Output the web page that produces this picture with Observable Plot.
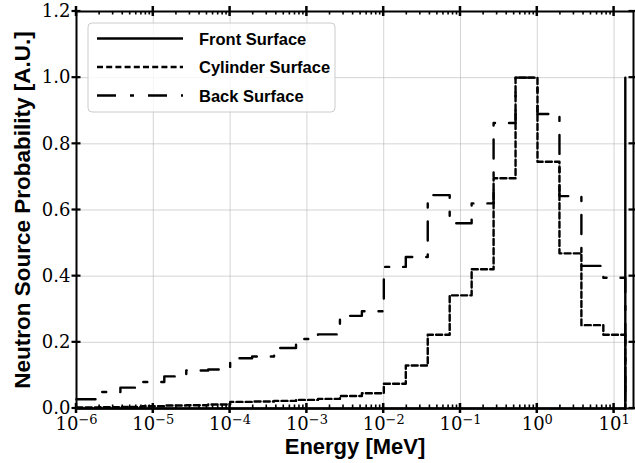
<!DOCTYPE html>
<html>
<head>
<meta charset="utf-8">
<script src="https://cdn.jsdelivr.net/npm/d3@7"></script>
<script src="https://cdn.jsdelivr.net/npm/@observablehq/plot@0.6"></script>
<style>
  html, body { margin: 0; padding: 0; background: white; }
  svg { display: block; }
</style>
</head>
<body>
<div id="chart"></div>
<script>
// Bin edges [MeV] (25 log-spaced bins, 1e-6 .. 14 MeV)
const edges = [1.000e-6, 1.931e-6, 3.730e-6, 7.203e-6, 1.391e-5, 2.687e-5, 5.189e-5,
  1.002e-4, 1.935e-4, 3.738e-4, 7.219e-4, 1.394e-3, 2.693e-3, 5.200e-3,
  1.004e-2, 1.940e-2, 3.746e-2, 7.234e-2, 0.1397, 0.2698, 0.5211,
  1.006, 1.944, 3.753, 7.249, 14.0];

// Step values (value at each edge, "post" steps)
const front = [0, 0, 0, 0, 0, 0, 0, 0, 0, 0, 0, 0, 0, 0, 0, 0, 0, 0, 0, 0, 0, 0, 0, 0, 0, 1.0];
const cylinder = [0.003, 0.004, 0.005, 0.007, 0.009, 0.010, 0.012, 0.020, 0.021, 0.023, 0.026, 0.029, 0.038, 0.046,
  0.075, 0.130, 0.223, 0.342, 0.421, 0.696, 1.000, 0.746, 0.469, 0.252, 0.223, 0];
const back = [0.028, 0.050, 0.063, 0.080, 0.097, 0.115, 0.118, 0.152, 0.157, 0.183, 0.210, 0.224, 0.280, 0.294,
  0.428, 0.458, 0.645, 0.560, 0.620, 0.863, 1.000, 0.890, 0.642, 0.431, 0.395, 0];

const seriesNames = ["Front Surface", "Cylinder Surface", "Back Surface"];
const seriesDash = [null, "6,3.2", "19,14,4,14"];

const xTicks = [1e-6, 1e-5, 1e-4, 1e-3, 1e-2, 1e-1, 1, 10];
const xTickExp = ["\u22126", "\u22125", "\u22124", "\u22123", "\u22122", "\u22121", "0", "1"];
const yTicks = [0, 0.2, 0.4, 0.6, 0.8, 1.0, 1.2];
const xDomain = [1e-6, 17.9];
const yDomain = [0, 1.2];
const xLabel = "Energy [MeV]";
const yLabel = "Neutron Source Probability [A.U.]";

const toRows = vals => edges.map((e, i) => ({e, v: vals[i]}));
const allSeries = [front, cylinder, back];

const sansBold = "'Liberation Sans', Arial, sans-serif";
const serif = "'DejaVu Serif', serif";
const gridStyle = {stroke: "#b0b0b0", strokeOpacity: 0.55, strokeWidth: 1};

const plot = Plot.plot({
  width: 635,
  height: 463,
  marginLeft: 76,
  marginRight: 2,
  marginTop: 11,
  marginBottom: 55,
  style: {fontFamily: serif, fontSize: "18px", color: "black", background: "white"},
  x: {type: "log", domain: xDomain},
  y: {domain: yDomain},
  marks: [
    Plot.gridX({ticks: xTicks, ...gridStyle}),
    Plot.gridY({ticks: yTicks, ...gridStyle}),
    ...allSeries.map((s, k) => Plot.line(toRows(s), {
      x: "e", y: "v", curve: "step-after",
      stroke: "black", strokeWidth: 2.4,
      strokeDasharray: seriesDash[k] ?? undefined
    })),
    Plot.frame({stroke: "black", strokeWidth: 2}),
    Plot.axisX({ticks: xTicks, tickSize: 0, tickPadding: 9, label: null,
      tickFormat: d => xTickExp[xTicks.indexOf(d)],
      fontFamily: serif, fontSize: 18}),
    Plot.axisY({ticks: yTicks, tickSize: 0, tickPadding: 6, label: null,
      tickFormat: d3.format(".1f"), fontFamily: serif, fontSize: 18}),
    Plot.text([xLabel], {text: d => d, frameAnchor: "bottom", dy: 38.5,
      textAnchor: "middle", lineAnchor: "middle",
      fontFamily: sansBold, fontWeight: "bold", fontSize: 22, fill: "black"}),
    Plot.text([yLabel], {text: d => d, frameAnchor: "left", rotate: -90, dx: -54,
      textAnchor: "middle", lineAnchor: "middle",
      fontFamily: sansBold, fontWeight: "bold", fontSize: 22.5, fill: "black"})
  ]
});

document.getElementById("chart").appendChild(plot);

const svg = d3.select(plot);

// superscript exponents on x tick labels
svg.selectAll('g[aria-label="x-axis tick label"] text').each(function () {
  const t = d3.select(this);
  const exp = t.text();
  t.text(null);
  t.append("tspan").text("10");
  t.append("tspan").attr("dy", "-0.48em").attr("font-size", "0.72em").text(exp);
});

// ticks (inout majors, inward minors) from the plot's own scales
const xs = plot.scale("x"), ys = plot.scale("y");
const [xL, xR] = xs.range;
const yB = ys.range[0], yT = ys.range[1];
const tg = svg.append("g").attr("stroke", "black");
for (const t of xTicks) {
  const px = xs.apply(t);
  tg.append("line").attr("x1", px).attr("x2", px).attr("y1", yB - 5).attr("y2", yB + 5).attr("stroke-width", 2.5);
  tg.append("line").attr("x1", px).attr("x2", px).attr("y1", yT - 5).attr("y2", yT + 5).attr("stroke-width", 2.5);
}
const minor = [];
for (const d of xTicks) for (const m of [2, 3, 4, 5, 6, 7, 8, 9]) {
  const v = d * m;
  if (v < xDomain[1]) minor.push(v);
}
for (const t of minor) {
  const px = xs.apply(t);
  tg.append("line").attr("x1", px).attr("x2", px).attr("y1", yB).attr("y2", yB - 3.5).attr("stroke-width", 1.6);
  tg.append("line").attr("x1", px).attr("x2", px).attr("y1", yT).attr("y2", yT + 3.5).attr("stroke-width", 1.6);
}
for (const t of yTicks) {
  const py = ys.apply(t);
  tg.append("line").attr("x1", xL - 4.5).attr("x2", xL + 4.5).attr("y1", py).attr("y2", py).attr("stroke-width", 2.2);
  tg.append("line").attr("x1", xR - 4.5).attr("x2", xR + 4.5).attr("y1", py).attr("y2", py).attr("stroke-width", 2.2);
}

// legend
const lg = svg.append("g").attr("text-anchor", "start");
lg.append("rect").attr("x", xL + 12).attr("y", yT + 12).attr("width", 247).attr("height", 89)
  .attr("rx", 4).attr("fill", "white").attr("fill-opacity", 0.8)
  .attr("stroke", "#cccccc").attr("stroke-width", 1);
seriesNames.forEach((name, k) => {
  const cy = yT + 27.5 + k * 28.5;
  lg.append("line").attr("x1", xL + 21).attr("x2", xL + 107).attr("y1", cy).attr("y2", cy)
    .attr("stroke", "black").attr("stroke-width", 2.4)
    .attr("stroke-dasharray", seriesDash[k]);
  lg.append("text").attr("x", xL + 123).attr("y", cy + 6).attr("text-anchor", "start")
    .attr("font-family", sansBold).attr("font-weight", "bold").attr("font-size", 16.5)
    .attr("fill", "black").text(name);
});
</script>
</body>
</html>
